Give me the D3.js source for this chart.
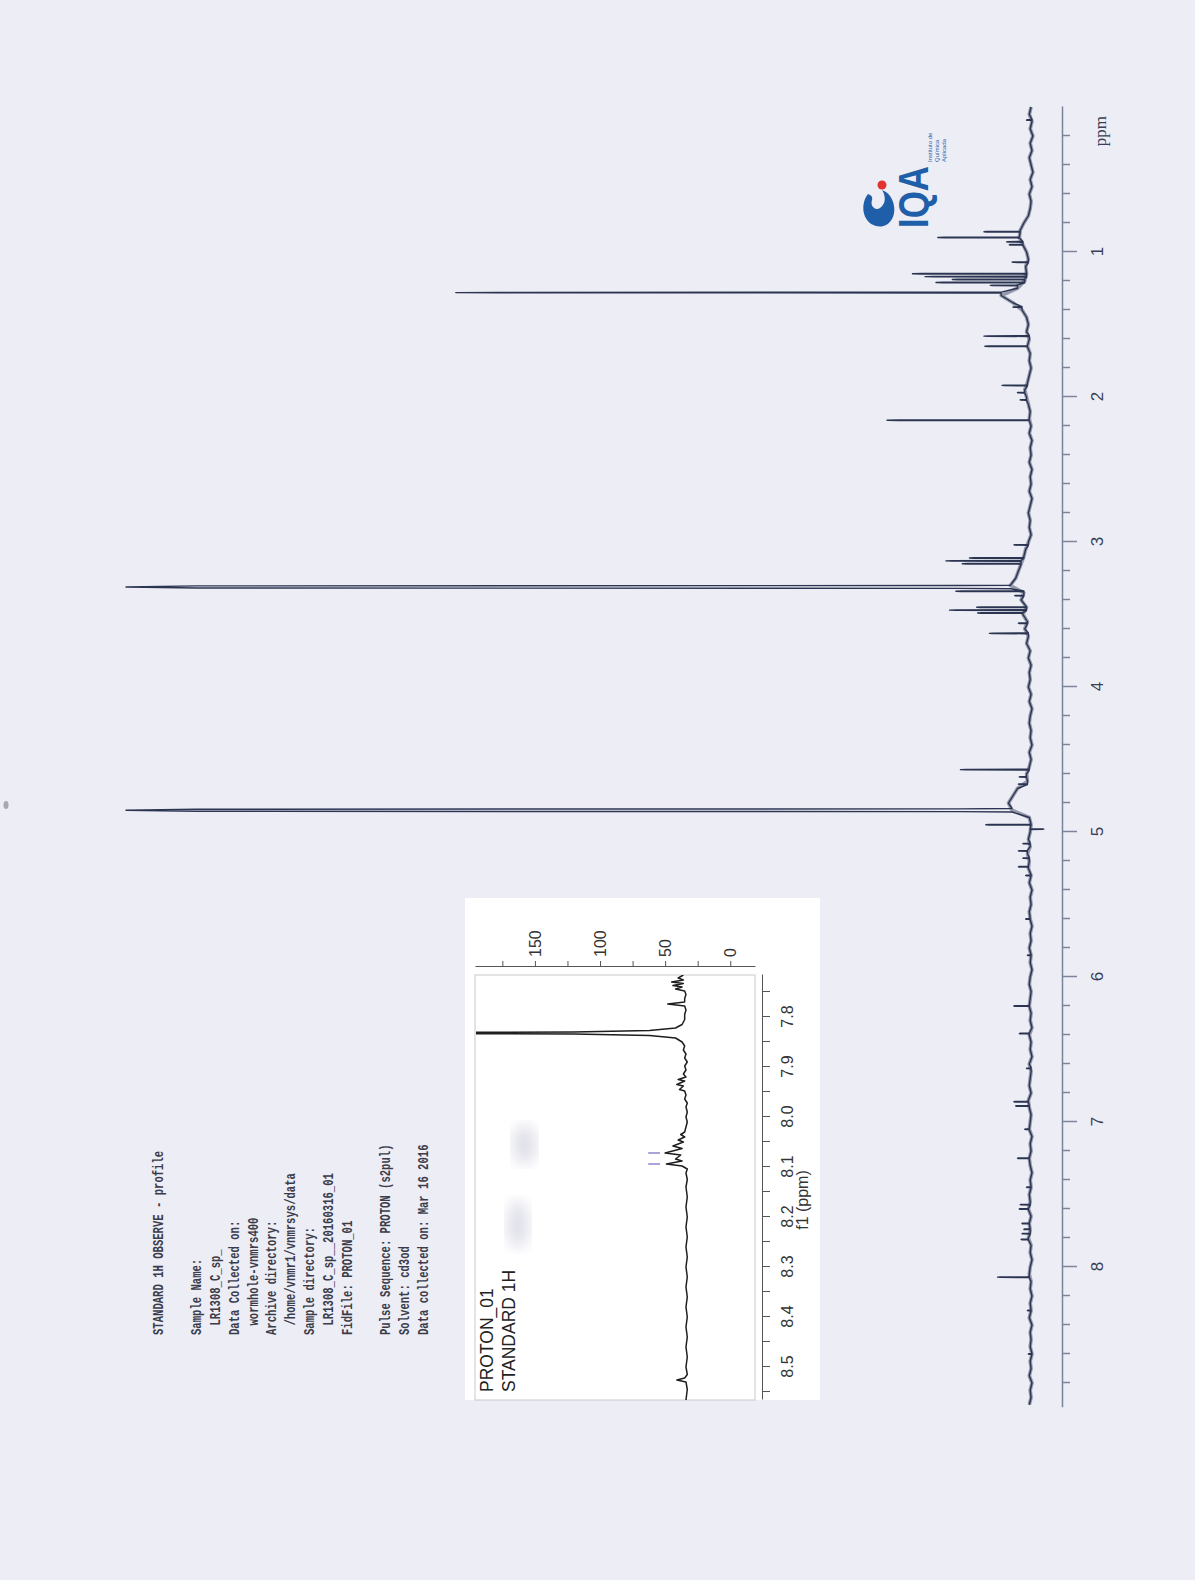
<!DOCTYPE html>
<html>
<head>
<meta charset="utf-8">
<script src="https://cdn.jsdelivr.net/npm/d3@7"></script>
<style>
  body { margin: 0; background: #ededf5; }
  text { white-space: pre; }
</style>
</head>
<body>
<script>
const W = 1195, H = 1580;

// ---- main 1H spectrum ----
const ppmTicks = d3.range(1, 45).map(i => i / 5);      // 0.2 .. 8.8
const baseStart = 0, baseStep = 0.05;
// baseline level (% of full scale) every 0.05 ppm, 0.00 .. 8.95
const baseline = [
  0.1,0.3,0.0,0.2,-0.1,0.2,0.0,0.3,0.1,-0.1,0.2,0.0,0.3,0.1,0.2,0.4,0.9,1.3,1.4,1.0,
  0.6,0.4,0.7,0.6,0.8,1.6,3.4,2.1,1.1,0.6,0.4,0.6,0.3,0.5,0.2,0.3,0.1,0.3,0.5,0.8,
  0.6,0.4,0.2,0.3,0.1,0.3,0.0,0.2,0.1,0.3,0.0,0.2,0.1,0.3,0.0,0.2,0.4,0.2,0.3,0.1,
  0.4,0.7,0.9,1.2,1.5,1.8,2.4,0.9,1.2,0.6,1.0,0.5,0.8,0.4,0.6,0.2,0.4,0.1,0.3,0.2,
  0.4,0.1,0.3,0.0,0.2,0.3,0.1,0.2,0.0,0.3,0.1,0.3,0.6,0.5,1.6,2.1,2.6,2.2,0.3,0.1,
  0.2,0.4,0.2,0.5,0.3,0.4,0.1,0.3,0.0,0.2,0.1,0.3,0.2,0.0,0.2,0.1,0.3,0.1,0.2,0.0,
  0.2,0.3,0.1,0.2,0.3,0.1,0.2,0.0,0.3,0.1,0.2,0.0,0.3,0.1,0.2,0.3,0.1,0.4,0.3,0.1,
  0.2,0.3,0.0,0.2,0.1,0.3,0.2,0.0,0.2,0.1,0.3,0.2,0.4,0.1,0.3,0.2,0.4,0.1,0.2,0.0,
  0.2,0.3,0.1,0.2,0.0,0.2,0.1,0.3,0.0,0.2,0.1,0.2,0.0,0.2,0.1,0.3,0.0,0.2,0.1,0.3
];
// [ppm, height above baseline in % of full scale]
const peaks = [
  [0.09,0.6],
  [0.86,4.0],[0.90,9.0],[0.93,1.8],[0.95,1.5],
  [1.07,1.8],[1.15,12.6],[1.17,11.2],[1.19,8.0],[1.21,9.8],[1.23,3.0],
  [1.28,60.2],[1.38,1.0],
  [1.58,5.0],[1.65,4.7],
  [1.92,2.8],[1.97,0.8],[2.02,0.7],
  [2.16,15.7],
  [3.02,1.6],[3.11,6.0],[3.13,8.3],[3.15,6.5],
  [3.31,97.6],[3.34,7.5],[3.37,1.0],
  [3.45,5.5],[3.47,8.5],[3.49,5.0],[3.56,1.0],[3.63,4.3],
  [4.57,7.6],[4.62,0.8],[4.67,1.0],
  [4.85,97.8],[4.95,5.0],[4.98,-1.5],
  [5.08,0.8],[5.13,1.0],[5.18,0.7],[5.24,1.1],[5.30,0.6],[5.60,0.5],[5.85,0.4],
  [6.20,1.7],[6.39,1.1],[6.63,0.5],[6.86,1.6],[6.89,1.5],
  [7.05,0.5],[7.25,1.3],[7.45,0.5],[7.57,1.1],[7.60,1.0],
  [7.70,0.8],[7.74,0.7],[7.77,0.9],[7.81,0.8],
  [8.07,3.5],[8.30,0.4],[8.60,0.4]
];

// ---- inset (7.7 - 8.6 ppm) ----
const insetPpmTicks = d3.range(155, 172).map(i => i / 20);
const insetIntTicks = [0, 25, 50, 75, 100, 125, 150, 175];
const insetTrace = [
  [7.716,36],[7.722,40],[7.726,36],[7.730,45],[7.733,36],[7.737,44],[7.740,37],[7.744,42],[7.748,35],
  [7.755,34],[7.763,35],[7.770,35],[7.774,48],[7.778,35],[7.786,34],[7.795,35],[7.805,35],
  [7.815,37],[7.822,42],[7.827,62],[7.8298,120],[7.8308,210],[7.8332,210],[7.8342,120],[7.837,62],
  [7.842,42],[7.850,37],[7.858,35],[7.866,36],[7.874,34],[7.882,35],[7.890,33],[7.898,35],
  [7.906,34],[7.914,36],[7.920,34],[7.925,40],[7.928,35],[7.935,41],[7.938,36],[7.945,39],
  [7.948,35],[7.956,34],[7.964,35],[7.972,33],[7.980,34],[7.990,33],[8.000,34],[8.010,33],
  [8.020,34],[8.030,35],[8.035,38],[8.040,35],[8.046,40],[8.050,36],[8.058,44],[8.063,37],
  [8.072,50],[8.076,38],[8.084,42],[8.088,37],[8.094,49],[8.098,37],[8.104,33],[8.112,34],
  [8.125,33],[8.140,34],[8.160,33],[8.180,34],[8.200,33],[8.220,34],[8.240,33],[8.260,34],
  [8.280,33],[8.300,34],[8.320,33],[8.340,34],[8.360,33],[8.380,34],[8.400,33],[8.420,34],
  [8.440,33],[8.460,34],[8.480,33],[8.500,34],[8.515,33],[8.522,35],[8.526,41],[8.530,34],
  [8.545,33],[8.566,34]
];
const insetMarks = [8.072, 8.094];

const headerLines = [
  ["STANDARD 1H OBSERVE - profile", 0],
  ["", 0],
  ["Sample Name:", 0],
  ["LR1308_C_sp_", 1],
  ["Data Collected on:", 0],
  ["wormhole-vnmrs400", 1],
  ["Archive directory:", 0],
  ["/home/vnmr1/vnmrsys/data", 1],
  ["Sample directory:", 0],
  ["LR1308_C_sp__20160316_01", 1],
  ["FidFile: PROTON_01", 0],
  ["", 0],
  ["Pulse Sequence: PROTON (s2pul)", 0],
  ["Solvent: cd3od", 0],
  ["Data collected on: Mar 16 2016", 0]
];

const svg = d3.select("body").append("svg")
  .attr("width", W).attr("height", H);

svg.append("rect").attr("width", W).attr("height", H).attr("fill", "#ededf5");

// the printout is landscape, turned a quarter turn on the page
const g = svg.append("g").attr("transform", `translate(0,${H}) rotate(-90)`);

const axisColor = "#7c8499";
const traceColor = "#2b3552";

// scales (landscape coords)
const x = d3.scaleLinear().domain([0, 8.97]).range([1473, 1473 - 145 * 8.97]);
const y = d3.scaleLinear().domain([0, 100]).range([1032, 126]);

function baseAt(p) {
  const i = Math.round((p - baseStart) / baseStep);
  return baseline[Math.max(0, Math.min(baseline.length - 1, i))];
}
const halfW = h => Math.abs(h) > 80 ? 0.012 : 0.003;

const basePts = baseline.map((v, i) => [baseStart + i * baseStep, v]);
let pts = basePts.filter(d => !peaks.some(pk => Math.abs(pk[0] - d[0]) < halfW(pk[1]) * 1.5));
peaks.forEach(([p, h]) => {
  const w = halfW(h), b = baseAt(p);
  pts.push([p - w, b], [p - 0.8 * w, b + 0.06 * h], [p - 0.6 * w, b + 0.92 * h], [p, b + h],
           [p + 0.6 * w, b + 0.92 * h], [p + 0.8 * w, b + 0.06 * h], [p + w, b]);
});
pts.sort((a, b) => a[0] - b[0]);

const line = d3.line().x(d => x(d[0])).y(d => y(d[1]));

// noisy printed baseline: a soft wide band under the trace
g.append("path")
  .datum(basePts)
  .attr("d", line)
  .attr("fill", "none")
  .attr("stroke", traceColor)
  .attr("stroke-width", 3.6)
  .attr("stroke-opacity", 0.45)
  .attr("stroke-linejoin", "round");

g.append("path")
  .datum(pts)
  .attr("d", line)
  .attr("fill", "none")
  .attr("stroke", traceColor)
  .attr("stroke-width", 1.4)
  .attr("stroke-linejoin", "round");

// ppm axis
const axis = d3.axisBottom(x)
  .tickValues(ppmTicks)
  .tickSize(8)
  .tickSizeOuter(0)
  .tickFormat(d => Number.isInteger(d) ? d : "");
const ag = g.append("g").attr("transform", "translate(0,1062)").call(axis);
ag.select(".domain").attr("stroke", axisColor).attr("stroke-width", 1.5);
ag.selectAll(".tick line")
  .attr("stroke", axisColor).attr("stroke-width", 1.5)
  .attr("y2", d => Number.isInteger(d) ? 15 : 8);
ag.selectAll(".tick text")
  .attr("y", 29)
  .attr("fill", "#3a3f55")
  .style("font", "17px 'Liberation Sans', sans-serif");

g.append("text")
  .attr("x", 1449).attr("y", 1106)
  .attr("text-anchor", "middle")
  .attr("fill", "#3a3f55")
  .style("font", "17px 'Liberation Serif', serif")
  .text("ppm");

// header text block (narrow typewriter face)
const charW = 6.35;
g.append("g")
  .selectAll("text")
  .data(headerLines.filter(d => d[0] !== "").map(d => ({ t: d[0], ind: d[1], i: headerLines.indexOf(d) })))
  .join("text")
  .attr("x", d => 245 + d.ind * charW * 1.5)
  .attr("y", d => 163 + 18.9 * d.i)
  .attr("textLength", d => d.t.length * charW)
  .attr("lengthAdjust", "spacingAndGlyphs")
  .attr("fill", "#3a3c4a")
  .style("font", "bold 14px 'Liberation Mono', 'Courier New', monospace")
  .text(d => d.t);

// ---- inset ----
const inset = g.append("g");
inset.append("rect")
  .attr("x", 180).attr("y", 465).attr("width", 502).attr("height", 355)
  .attr("fill", "#ffffff");

const ix = d3.scaleLinear().domain([7.716, 8.566]).range([605, 180]);
const iy = d3.scaleLinear().domain([-19, 196]).range([755, 475]);

// faint scanner smudges inside the inset
const blur = svg.append("defs").append("filter").attr("id", "blur");
blur.append("feGaussianBlur").attr("stdDeviation", 7);
inset.selectAll("ellipse.smudge")
  .data([[8.055, 158, 20, 12], [8.215, 163, 24, 11]])
  .join("ellipse")
  .attr("cx", d => ix(d[0])).attr("cy", d => iy(d[1]))
  .attr("rx", d => d[2]).attr("ry", d => d[3])
  .attr("fill", "#e0e0ea").attr("filter", "url(#blur)");

inset.append("rect")
  .attr("x", 180).attr("y", 475).attr("width", 425).attr("height", 280)
  .attr("fill", "none").attr("stroke", "#c9c9c9").attr("stroke-width", 1);

inset.append("clipPath").attr("id", "iclip")
  .append("rect").attr("x", 180).attr("y", 476).attr("width", 425).attr("height", 279);

inset.append("path")
  .datum(insetTrace)
  .attr("clip-path", "url(#iclip)")
  .attr("d", d3.line().x(d => ix(d[0])).y(d => iy(d[1])))
  .attr("fill", "none")
  .attr("stroke", "#1e1e1e")
  .attr("stroke-width", 1.5)
  .attr("stroke-linejoin", "round");

inset.selectAll("line.mark")
  .data(insetMarks)
  .join("line")
  .attr("x1", d => ix(d)).attr("x2", d => ix(d))
  .attr("y1", iy(54)).attr("y2", iy(63))
  .attr("stroke", "#6a6ac4").attr("stroke-width", 1.2);

const ixAxis = d3.axisBottom(ix)
  .tickValues(insetPpmTicks)
  .tickSize(8)
  .tickSizeOuter(0)
  .tickFormat(d => Math.round(d * 20) % 2 === 0 ? d.toFixed(1) : "");
const ixg = inset.append("g").attr("transform", "translate(0,762)").call(ixAxis);
ixg.selectAll(".domain, .tick line").attr("stroke", "#555");
ixg.selectAll(".tick text")
  .attr("y", 20).attr("fill", "#333")
  .style("font", "16px 'Liberation Sans', sans-serif");

inset.append("text")
  .attr("x", ix(8.166)).attr("y", 808)
  .attr("text-anchor", "middle").attr("fill", "#333")
  .style("font", "16px 'Liberation Sans', sans-serif")
  .text("f1 (ppm)");

const iyAxis = d3.axisRight(iy)
  .tickValues(insetIntTicks)
  .tickSize(6)
  .tickSizeOuter(0)
  .tickPadding(4)
  .tickFormat(d => d % 50 === 0 ? d : "");
const iyg = inset.append("g").attr("transform", "translate(613,0)").call(iyAxis);
iyg.selectAll(".domain, .tick line").attr("stroke", "#555");
iyg.selectAll(".tick text")
  .attr("fill", "#333")
  .style("font", "16px 'Liberation Sans', sans-serif");

inset.selectAll("text.title")
  .data(["PROTON_01", "STANDARD 1H"])
  .join("text")
  .attr("x", 188).attr("y", (d, i) => 493 + i * 22)
  .attr("fill", "#222")
  .style("font", "17.5px 'Liberation Sans', sans-serif")
  .text(d => d);

// ---- IQA logo ----
const logo = g.append("g").attr("transform", "translate(1352,860)");
logo.append("path")
  .attr("d", "M34,8 C24,0 6,2 2,16 C-1,28 10,36 22,34 C30,33 36,28 38,22 C32,26 24,26 20,20 C17,15 22,10 28,12 C31,13 33,11 34,8 Z")
  .attr("fill", "#1f5ea8");
logo.append("circle").attr("cx", 43).attr("cy", 22).attr("r", 4.5).attr("fill", "#e2332f");
logo.append("text")
  .attr("x", 0).attr("y", 68)
  .attr("textLength", 62).attr("lengthAdjust", "spacingAndGlyphs")
  .attr("fill", "#1f5ea8")
  .style("font", "bold 42px 'Liberation Sans', sans-serif")
  .text("IQA");
logo.selectAll("text.sub")
  .data(["Instituto de", "Química", "Aplicada"])
  .join("text")
  .attr("x", 66).attr("y", (d, i) => 72 + i * 7)
  .attr("fill", "#1f5ea8")
  .style("font", "6px 'Liberation Sans', sans-serif")
  .text(d => d);

// small dark speck at the page edge from the scan
svg.append("ellipse").attr("cx", 6).attr("cy", 805).attr("rx", 2.5).attr("ry", 4)
  .attr("fill", "#8a8a95").attr("opacity", 0.7);
</script>
</body>
</html>
